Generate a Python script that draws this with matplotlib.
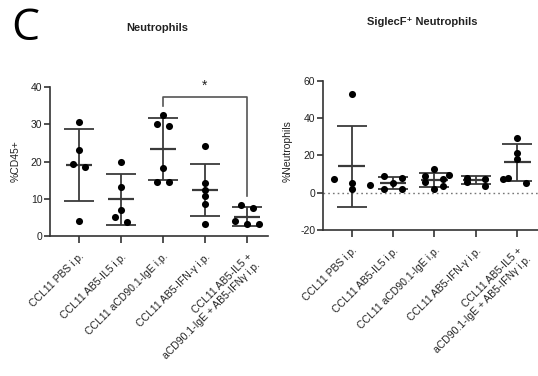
import numpy as np
import matplotlib
matplotlib.use('Agg')
import matplotlib.pyplot as plt

plt.rcParams['font.family'] = ['Liberation Sans', 'DejaVu Sans']
plt.rcParams['axes.unicode_minus'] = False

#%% data

groups = ['CCL11 PBS i.p.', 'CCL11 AB5-IL5 i.p.', 'CCL11 aCD90.1-IgE i.p.',
          'CCL11 AB5-IFN-γ i.p.', 'CCL11 AB5-IL5 +\naCD90.1-IgE + AB5-IFNγ i.p.']

# %CD45+ neutrophils
pbs_cd45 = [30.5, 23.2, 19.4, 18.6, 4.0]
il5_cd45 = [20.0, 13.2, 7.0, 5.0, 3.8]
ige_cd45 = [32.6, 30.1, 29.4, 18.2, 14.6, 14.6]
ifn_cd45 = [24.2, 14.2, 12.4, 10.8, 8.6, 3.2]
combo_cd45 = [8.3, 7.4, 4.0, 3.2, 3.2]

# SiglecF+ as % of neutrophils
pbs_sig = [52.9, 7.1, 5.0, 4.3, 1.8]
il5_sig = [8.9, 7.7, 5.0, 1.8, 1.8]
ige_sig = [12.5, 9.1, 7.1, 5.5, 3.6, 2.1]
ifn_sig = [9.3, 7.7, 7.3, 7.3, 5.5, 3.6]
combo_sig = [29.3, 21.1, 17.9, 7.7, 5.0]

cd45_data = [pbs_cd45, il5_cd45, ige_cd45, ifn_cd45, combo_cd45]
sig_data = [pbs_sig, il5_sig, ige_sig, ifn_sig, combo_sig]

# significance bracket: group 3 vs group 5
sig_pair = (2, 4)
sig_bracket_y = 37.3
sig_leg_bottoms = (35.0, 10.8)

#%%

line_col = '#3a3a3a'


def swarm_offsets(ax, vals, thresh_px=5.6, step_px=12):
    # points closer than thresh_px vertically share a row and get spread sideways
    vals = np.asarray(vals, dtype=float)
    p0 = ax.transData.transform((0, 0))
    p1 = ax.transData.transform((1, 1))
    px_x = p1[0] - p0[0]
    px_y = p1[1] - p0[1]
    order = np.argsort(-vals, kind='stable')
    rows = []
    cur = [order[0]]
    for i in order[1:]:
        if (vals[cur[0]] - vals[i]) * px_y <= thresh_px:
            cur.append(i)
        else:
            rows.append(cur)
            cur = [i]
    rows.append(cur)
    offs = np.zeros(len(vals))
    for r in rows:
        n = len(r)
        for k, i in enumerate(r):
            offs[i] = (k - (n - 1) / 2) * step_px / px_x
    return offs


def dot_plot(ax, data, ylim, yticks, ylabel, label_x, label_y, step_px):
    ax.set_xlim(-0.69, 4.5)
    ax.set_ylim(*ylim)
    ax.set_yticks(yticks)
    for i, vals in enumerate(data):
        vals = np.asarray(vals)
        m = vals.mean()
        sd = vals.std(ddof=1)
        ax.errorbar(i, m, yerr=sd, fmt='none', ecolor=line_col, elinewidth=1.3,
                    capsize=11, capthick=1.3, zorder=2, clip_on=False)
        ax.hlines(m, i - 0.32, i + 0.32, color=line_col, lw=1.6, zorder=2)
        xs = i + swarm_offsets(ax, vals, step_px=step_px)
        ax.scatter(xs, vals, s=26, c='black', linewidths=0, zorder=3, clip_on=False)
    ax.set_xticks(range(len(groups)))
    ax.set_xticklabels(groups, rotation=45, ha='right', va='top',
                       rotation_mode='anchor', fontsize=7.5, multialignment='right')
    ax.set_ylabel(ylabel, fontsize=7.5, color='#222')
    ax.yaxis.set_label_coords(label_x, label_y)
    for s in ['top', 'right']:
        ax.spines[s].set_visible(False)
    for s in ['left', 'bottom']:
        ax.spines[s].set_linewidth(1.2)
        ax.spines[s].set_color('#333')
    ax.tick_params(axis='y', length=4.5, width=1.2, pad=1, labelsize=7.5, colors='#333')
    ax.tick_params(axis='x', length=5, width=1.2, pad=6, colors='#333')
    for t in ax.get_xticklabels() + ax.get_yticklabels():
        t.set_color('#222')


fig = plt.figure(figsize=(5.38, 3.76), dpi=100)
ax1 = fig.add_axes([50 / 538, 1 - 236 / 376, 218 / 538, 149 / 376])
ax2 = fig.add_axes([323 / 538, 1 - 230 / 376, 215 / 538, 149.3 / 376])

dot_plot(ax1, cd45_data, (0, 40), [0, 10, 20, 30, 40], '%CD45+', -0.133, 0.5, 12)
ax2.axhline(0, ls=(0, (1.2, 2.2)), color='#777', lw=1, zorder=1)
dot_plot(ax2, sig_data, (-20, 60), [-20, 0, 20, 40, 60], '%Neutrophils', -0.14, 0.53, 18)

# bracket with star
a, b = sig_pair
ax1.plot([a, a, b, b], [sig_leg_bottoms[0], sig_bracket_y, sig_bracket_y, sig_leg_bottoms[1]],
         color='#555', lw=1.2, clip_on=False)
ax1.text((a + b) / 2, 40.3, '*', ha='center', va='center', fontsize=10,
         color='#222', clip_on=False)

fig.text(157 / 538, 1 - 28 / 376, 'Neutrophils', ha='center', va='center',
         fontsize=8, fontweight='bold', color='#222')
fig.text(422 / 538, 1 - 22 / 376, 'SiglecF⁺ Neutrophils', ha='center', va='center',
         fontsize=8, fontweight='bold', color='#222')
fig.text(11 / 538, 1 - 40 / 376, 'C', ha='left', va='baseline', fontsize=32,
         family=['Open Sans', 'DejaVu Sans'], color='black')

fig.savefig('out.png', dpi=100)
